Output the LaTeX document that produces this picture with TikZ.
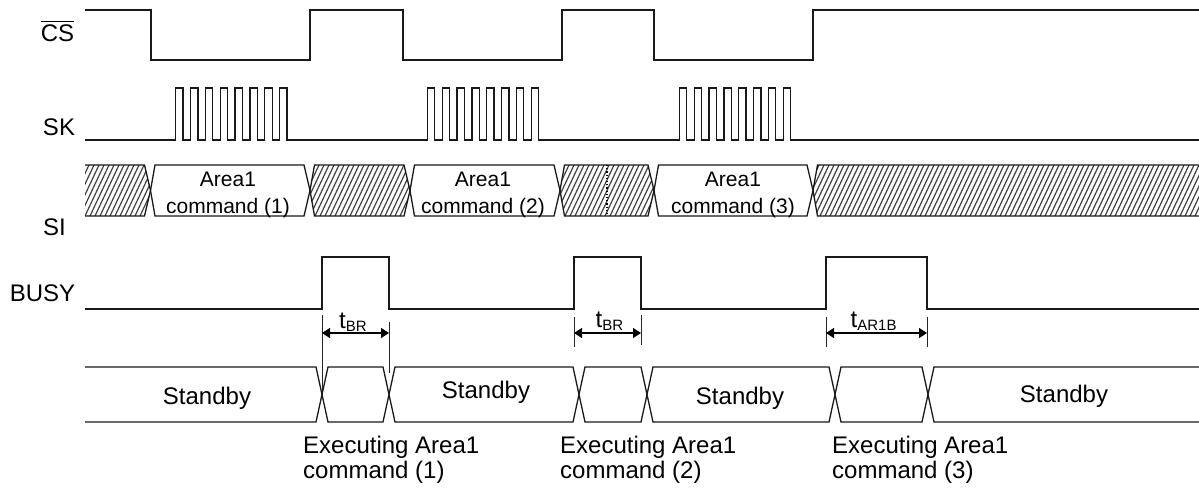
\documentclass[tikz,border=0pt]{standalone}
\usepackage{fontspec}
\setmainfont{Liberation Sans}
\usetikzlibrary{arrows.meta}
\begin{document}
\begin{tikzpicture}[x=1pt,y=-1pt,
  sig/.style={line width=1.3pt, black!90, line join=miter},
  lbl/.style={font=\fontsize{24}{27}\selectfont, inner sep=0, anchor=base},
  cmd/.style={font=\fontsize{21}{25}\selectfont, inner sep=0, anchor=base},
  txt/.style={font=\fontsize{24}{27}\selectfont, inner sep=0, anchor=base west},
  hatch/.style={line width=1.2pt, black!75},
  ext/.style={line width=1pt, black!85},
  dimarrow/.style={line width=1.2pt, {Triangle[length=8pt,width=10pt]}-{Triangle[length=8pt,width=10pt]}},
  tlab/.style={inner sep=0, anchor=base west}]
\useasboundingbox (0,0) rectangle (1199,488);

% ---------- signal names ----------
\node[lbl] (cs) at (57.5,41.7) {CS};
\draw[line width=1.4pt] ([yshift=3.5pt]cs.north west) -- ([yshift=3.5pt]cs.north east);
\node[lbl] (sk) at (59,135) {SK};
\node[lbl] (si) at (54.5,235) {SI};
\node[lbl] (busy) at (42.5,301.7) {BUSY};

% ---------- CS ----------
\draw[sig] (85,10) -- (151,10) -- (151,60) -- (310,60) -- (310,10) -- (403,10) -- (403,60)
  -- (562,60) -- (562,10) -- (654,10) -- (654,60) -- (813,60) -- (813,10) -- (1199,10);

% ---------- SK ----------
\draw[sig] (85,140)
  \foreach \k in {0,...,7}{ -- ({175.7+14.85*\k},140) -- ++(0,-52) -- ++(7.4,0) -- ++(0,52) }
  \foreach \k in {0,...,7}{ -- ({427.3+14.85*\k},140) -- ++(0,-52) -- ++(7.4,0) -- ++(0,52) }
  \foreach \k in {0,...,7}{ -- ({679.3+14.85*\k},140) -- ++(0,-52) -- ++(7.4,0) -- ++(0,52) }
  -- (1199,140);

% ---------- SI ----------
\def\st{165}\def\sb{216}\def\sm{190.5}
% hatched segments
\begin{scope}
  \clip (85,\st) -- (144.5,\st) -- (150.5,\sm) -- (144.5,\sb) -- (85,\sb) -- cycle
        (314.5,\st) -- (404,\st) -- (410,\sm) -- (404,\sb) -- (314.5,\sb) -- (310,\sm) -- cycle
        (564.5,\st) -- (648,\st) -- (654,\sm) -- (648,\sb) -- (564.5,\sb) -- (560,\sm) -- cycle
        (817.5,\st) -- (1199,\st) -- (1199,\sb) -- (817.5,\sb) -- (813,\sm) -- cycle;
  \foreach \x in {50,55,...,1200}{ \draw[hatch] (\x,\sb) -- (\x+24,\st); }
\end{scope}
\draw[sig] (85,\st) -- (144.5,\st) -- (150.5,\sm) -- (144.5,\sb) -- (85,\sb);
\draw[sig] (314.5,\st) -- (404,\st) -- (410,\sm) -- (404,\sb) -- (314.5,\sb) -- (310,\sm) -- cycle;
\draw[sig] (564.5,\st) -- (648,\st) -- (654,\sm) -- (648,\sb) -- (564.5,\sb) -- (560,\sm) -- cycle;
\draw[sig] (1199,\st) -- (817.5,\st) -- (813,\sm) -- (817.5,\sb) -- (1199,\sb);
\draw[line width=1.2pt, dotted] (607,\st) -- (607,\sb);
% command boxes
\draw[sig] (155,\st) -- (304,\st) -- (310,\sm) -- (304,\sb) -- (155,\sb) -- (150.5,\sm) -- cycle;
\draw[sig] (414.5,\st) -- (554,\st) -- (560,\sm) -- (554,\sb) -- (414.5,\sb) -- (410,\sm) -- cycle;
\draw[sig] (658.5,\st) -- (807,\st) -- (813,\sm) -- (807,\sb) -- (658.5,\sb) -- (654,\sm) -- cycle;
\node[cmd] (c1a) at (228,186) {Area1};
\node[cmd] (c1b) at (228,213) {command (1)};
\node[cmd] (c2a) at (483,186) {Area1};
\node[cmd] (c2b) at (483,213) {command (2)};
\node[cmd] (c3a) at (733,186) {Area1};
\node[cmd] (c3b) at (733,213) {command (3)};

% ---------- BUSY ----------
\draw[sig] (85,309) -- (322,309) -- (322,257) -- (389,257) -- (389,309) -- (574,309) -- (574,257)
  -- (641,257) -- (641,309) -- (826,309) -- (826,257) -- (927,257) -- (927,309) -- (1199,309);

% ---------- timing dimensions ----------
\coordinate (e1a) at (322,315);   \coordinate (e1b) at (322,394.5);
\coordinate (e2a) at (389,322);   \coordinate (e2b) at (389,373);
\coordinate (e3a) at (574,317);   \coordinate (e3b) at (574,347);
\coordinate (e4a) at (641,315);   \coordinate (e4b) at (641,345);
\coordinate (e5a) at (826,317);   \coordinate (e5b) at (826,347);
\coordinate (e6a) at (927,317);   \coordinate (e6b) at (927,347);
\foreach \i in {1,...,6}{ \draw[ext] (e\i a) -- (e\i b); }
\coordinate (a1l) at (322,333); \coordinate (a1r) at (389,333);
\coordinate (a2l) at (574,333); \coordinate (a2r) at (641,333);
\coordinate (a3l) at (826,333); \coordinate (a3r) at (927,333);
\draw[dimarrow] (a1l) -- (a1r);
\draw[dimarrow] (a2l) -- (a2r);
\draw[dimarrow] (a3l) -- (a3r);
\node[tlab] (t1) at (339,328) {\fontsize{24}{26}\selectfont t\raisebox{-3pt}{\fontsize{15}{17}\selectfont BR}};
\node[tlab] (t2) at (595.5,327) {\fontsize{24}{26}\selectfont t\raisebox{-3pt}{\fontsize{15}{17}\selectfont BR}};
\node[tlab] (t3) at (850.5,327) {\fontsize{24}{26}\selectfont t\raisebox{-3pt}{\fontsize{15}{17}\selectfont AR1B}};

% ---------- state bus ----------
\def\bt{367}\def\bb{422}\def\bm{394.5}
\draw[sig] (85,\bt) -- (316,\bt) -- (322,\bm) -- (316,\bb) -- (85,\bb);
\draw[sig] (328,\bt) -- (383,\bt) -- (389,\bm) -- (383,\bb) -- (328,\bb) -- (322,\bm) -- cycle;
\draw[sig] (395,\bt) -- (573,\bt) -- (579,\bm) -- (573,\bb) -- (395,\bb) -- (389,\bm) -- cycle;
\draw[sig] (585,\bt) -- (641,\bt) -- (647,\bm) -- (641,\bb) -- (585,\bb) -- (579,\bm) -- cycle;
\draw[sig] (653,\bt) -- (829,\bt) -- (835,\bm) -- (829,\bb) -- (653,\bb) -- (647,\bm) -- cycle;
\draw[sig] (841,\bt) -- (922,\bt) -- (928,\bm) -- (922,\bb) -- (841,\bb) -- (835,\bm) -- cycle;
\draw[sig] (1199,\bt) -- (934,\bt) -- (928,\bm) -- (934,\bb) -- (1199,\bb);
\node[lbl] (s1) at (207,404) {Standby};
\node[lbl] (s2) at (486,398) {Standby};
\node[lbl] (s3) at (740,404) {Standby};
\node[lbl] (s4) at (1064,402) {Standby};

% ---------- executing labels ----------
\node[txt] (x1a) at (303,453) {Executing Area1};
\node[txt] (x1b) at (303,478) {command (1)};
\node[txt] (x2a) at (560,453) {Executing Area1};
\node[txt] (x2b) at (560,478) {command (2)};
\node[txt] (x3a) at (832,453) {Executing Area1};
\node[txt] (x3b) at (832,478) {command (3)};
\end{tikzpicture}
\end{document}
